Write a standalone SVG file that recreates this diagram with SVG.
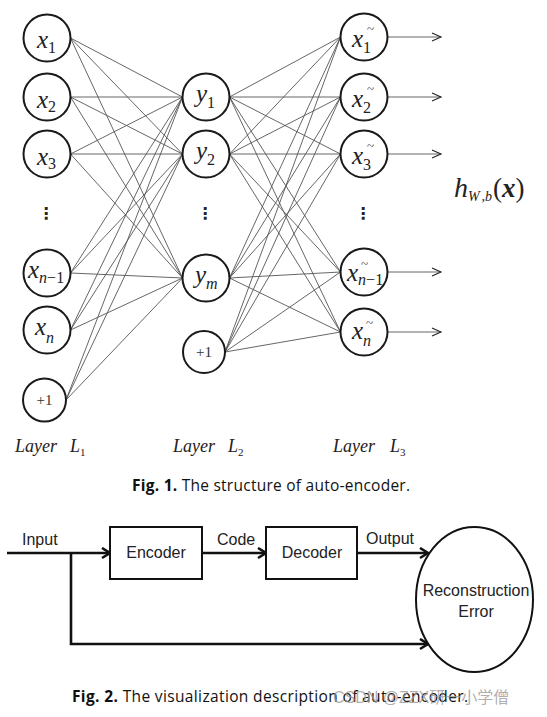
<svg xmlns="http://www.w3.org/2000/svg" width="547" height="717" viewBox="0 0 547 717">
<defs>
<marker id="thin" markerUnits="userSpaceOnUse" markerWidth="12" markerHeight="12" refX="10" refY="5" orient="auto"><path d="M1,1 L10,5 L1,9" fill="none" stroke="#222" stroke-width="1.1"/></marker>
<marker id="thick" markerUnits="userSpaceOnUse" markerWidth="14" markerHeight="14" refX="10" refY="6" orient="auto"><path d="M2,1 L10,6 L2,11" fill="none" stroke="#111" stroke-width="2.6"/></marker>
</defs>
<style>
.n{fill:#fff;stroke:#1a1a1a;stroke-width:2}
.c line{stroke:#555;stroke-width:0.9}
.v{font-family:"Liberation Serif",serif;font-style:italic;font-size:25px;fill:#222}
.s{font-size:16px}
.u{font-style:normal}
.t{font-family:"Liberation Serif",serif;font-size:13px;fill:#444}
.b{font-family:"Liberation Serif",serif;font-size:15px;fill:#333;text-anchor:middle}
.dots{font-family:"DejaVu Sans",sans-serif;font-weight:bold;font-size:16px;fill:#222;text-anchor:middle}
.lay{font-family:"Liberation Serif",serif;font-style:italic;font-size:18px;fill:#222}
.cap{font-family:"Open Sans",sans-serif;font-size:15.5px;fill:#111}
.bx{fill:#fff;stroke:#111;stroke-width:2}
.f2 line,.f2 polyline{stroke:#111;stroke-width:2.6;fill:none}
.a{font-family:"Liberation Sans",Arial,sans-serif;font-size:16px;fill:#222}
</style>
<rect width="547" height="717" fill="#fff"/>

<g id="connectors" class="c">
<!-- L1 to L2 -->
<line x1="70.5" y1="38" x2="182.5" y2="97"/><line x1="70.5" y1="38" x2="182.5" y2="154"/><line x1="70.5" y1="38" x2="182.5" y2="278"/>
<line x1="70.5" y1="97" x2="182.5" y2="97"/><line x1="70.5" y1="97" x2="182.5" y2="154"/><line x1="70.5" y1="97" x2="182.5" y2="278"/>
<line x1="70.5" y1="154" x2="182.5" y2="97"/><line x1="70.5" y1="154" x2="182.5" y2="154"/><line x1="70.5" y1="154" x2="182.5" y2="278"/>
<line x1="70.5" y1="273" x2="182.5" y2="97"/><line x1="70.5" y1="273" x2="182.5" y2="154"/><line x1="70.5" y1="273" x2="182.5" y2="278"/>
<line x1="70.5" y1="330" x2="182.5" y2="97"/><line x1="70.5" y1="330" x2="182.5" y2="154"/><line x1="70.5" y1="330" x2="182.5" y2="278"/>
<line x1="66" y1="400" x2="182.5" y2="97"/><line x1="66" y1="400" x2="182.5" y2="154"/><line x1="66" y1="400" x2="182.5" y2="278"/>
<!-- L2 to L3 -->
<line x1="229.5" y1="97" x2="340.5" y2="37"/><line x1="229.5" y1="97" x2="340.5" y2="97"/><line x1="229.5" y1="97" x2="340.5" y2="154"/><line x1="229.5" y1="97" x2="340.5" y2="272"/><line x1="229.5" y1="97" x2="340.5" y2="332"/>
<line x1="229.5" y1="154" x2="340.5" y2="37"/><line x1="229.5" y1="154" x2="340.5" y2="97"/><line x1="229.5" y1="154" x2="340.5" y2="154"/><line x1="229.5" y1="154" x2="340.5" y2="272"/><line x1="229.5" y1="154" x2="340.5" y2="332"/>
<line x1="229.5" y1="278" x2="340.5" y2="37"/><line x1="229.5" y1="278" x2="340.5" y2="97"/><line x1="229.5" y1="278" x2="340.5" y2="154"/><line x1="229.5" y1="278" x2="340.5" y2="272"/><line x1="229.5" y1="278" x2="340.5" y2="332"/>
<line x1="225" y1="352" x2="340.5" y2="37"/><line x1="225" y1="352" x2="340.5" y2="97"/><line x1="225" y1="352" x2="340.5" y2="154"/><line x1="225" y1="352" x2="340.5" y2="272"/><line x1="225" y1="352" x2="340.5" y2="332"/>
<!-- outputs -->
<g style="stroke:#222;stroke-width:1.1">
<line x1="388" y1="37" x2="441" y2="37" marker-end="url(#thin)"/>
<line x1="388" y1="97" x2="441" y2="97" marker-end="url(#thin)"/>
<line x1="388" y1="154" x2="441" y2="154" marker-end="url(#thin)"/>
<line x1="388" y1="272" x2="441" y2="272" marker-end="url(#thin)"/>
<line x1="388" y1="332" x2="441" y2="332" marker-end="url(#thin)"/>
</g>
</g>

<!-- Layer L1 -->
<g id="x1"><circle class="n" cx="47" cy="38" r="23.5"/><text class="v" x="37" y="48">x<tspan class="s u" dy="5">1</tspan></text></g>
<g id="x2"><circle class="n" cx="47" cy="97" r="23.5"/><text class="v" x="37" y="108">x<tspan class="s u" dy="4">2</tspan></text></g>
<g id="x3"><circle class="n" cx="47" cy="154" r="23.5"/><text class="v" x="37" y="165">x<tspan class="s u" dy="4">3</tspan></text></g>
<g id="dots1"><text class="dots" x="46" y="219">⋮</text></g>
<g id="xn1"><circle class="n" cx="47" cy="273" r="23.5"/><text class="v" x="28" y="278">x<tspan class="s" dy="5">n</tspan><tspan class="s u">−1</tspan></text></g>
<g id="xn"><circle class="n" cx="47" cy="330" r="23.5"/><text class="v" x="35" y="335">x<tspan class="s" dy="8">n</tspan></text></g>
<g id="b1"><circle class="n" cx="44.5" cy="400" r="21.5"/><text class="b" x="44.5" y="405">+1</text></g>

<!-- Layer L2 -->
<g id="y1"><circle class="n" cx="206" cy="97" r="23.5"/><text class="v" x="196" y="102">y<tspan class="s u" dy="6">1</tspan></text></g>
<g id="y2"><circle class="n" cx="206" cy="154" r="23.5"/><text class="v" x="196" y="159">y<tspan class="s u" dy="6">2</tspan></text></g>
<g id="dots2"><text class="dots" x="205" y="219">⋮</text></g>
<g id="ym"><circle class="n" cx="206" cy="278" r="23.5"/><text class="v" x="195" y="283">y<tspan class="s" dy="6">m</tspan></text></g>
<g id="b2"><circle class="n" cx="204" cy="352" r="21"/><text class="b" x="204" y="357">+1</text></g>

<!-- Layer L3 -->
<g id="xt1"><circle class="n" cx="364" cy="37" r="23.5"/><text class="v" x="352" y="47">x<tspan class="s u" dy="6">1</tspan></text><text class="t" x="367" y="33">~</text></g>
<g id="xt2"><circle class="n" cx="364" cy="97" r="23.5"/><text class="v" x="352" y="107">x<tspan class="s u" dy="6">2</tspan></text><text class="t" x="367" y="93">~</text></g>
<g id="xt3"><circle class="n" cx="364" cy="154" r="23.5"/><text class="v" x="352" y="164">x<tspan class="s u" dy="6">3</tspan></text><text class="t" x="367" y="150">~</text></g>
<g id="dots3"><text class="dots" x="363" y="219">⋮</text></g>
<g id="xtn1"><circle class="n" cx="364" cy="272" r="23.5"/><text class="v" x="347" y="281">x<tspan class="s" dy="4">n</tspan><tspan class="s u">−1</tspan></text><text class="t" x="361" y="268">~</text></g>
<g id="xtn"><circle class="n" cx="364" cy="332" r="23.5"/><text class="v" x="352" y="339">x<tspan class="s" dy="7">n</tspan></text><text class="t" x="366" y="327">~</text></g>

<g id="hwb"><text class="v" x="454" y="197" style="font-size:28px">h<tspan style="font-size:14px" dy="4">W</tspan><tspan style="font-size:14px" dx="3">,b</tspan><tspan class="u" dy="-4" dx="1" style="font-size:27px">(</tspan><tspan style="font-weight:bold;font-size:27px">x</tspan><tspan class="u" style="font-size:27px">)</tspan></text></g>

<g id="layers">
<text class="lay" x="15" y="452">Layer</text><text class="lay" x="70" y="452">L<tspan class="u" style="font-size:11px" dy="4">1</tspan></text>
<text class="lay" x="173" y="452">Layer</text><text class="lay" x="228" y="452">L<tspan class="u" style="font-size:11px" dy="4">2</tspan></text>
<text class="lay" x="333" y="452">Layer</text><text class="lay" x="390" y="452">L<tspan class="u" style="font-size:11px" dy="4">3</tspan></text>
</g>

<text class="cap" x="132" y="491" textLength="278" lengthAdjust="spacing"><tspan font-weight="bold">Fig. 1.</tspan> The structure of auto-encoder.</text>

<!-- Fig. 2 -->
<g id="fig2-connectors" class="f2">
<line x1="7" y1="553" x2="110" y2="553" marker-end="url(#thick)"/>
<line x1="202" y1="553" x2="266" y2="553" marker-end="url(#thick)"/>
<line x1="357" y1="553" x2="428" y2="553" marker-end="url(#thick)"/>
<polyline points="71,553 71,644 428,644" marker-end="url(#thick)"/>
</g>
<g id="encoder"><rect class="bx" x="110" y="527" width="92" height="52"/><text class="a" x="156" y="558" text-anchor="middle">Encoder</text></g>
<g id="decoder"><rect class="bx" x="266" y="527" width="91" height="52"/><text class="a" x="312" y="558" text-anchor="middle">Decoder</text></g>
<g id="recon"><ellipse class="bx" cx="474.5" cy="599.5" rx="58.5" ry="72.5"/><text class="a" x="476" y="596" text-anchor="middle">Reconstruction</text><text class="a" x="476" y="617" text-anchor="middle">Error</text></g>
<text class="a" x="22" y="545">Input</text>
<text class="a" x="217" y="545">Code</text>
<text class="a" x="366" y="544">Output</text>

<text class="cap" x="72" y="702" textLength="396" lengthAdjust="spacing"><tspan font-weight="bold">Fig. 2.</tspan> The visualization description of auto-encoder.</text>
<text x="333" y="703" style="font-family:'Liberation Sans','Noto Sans CJK SC',sans-serif;font-size:16px;fill:#9a9a9a;fill-opacity:0.8">CSDN @ZZX研一小学僧</text>
</svg>
